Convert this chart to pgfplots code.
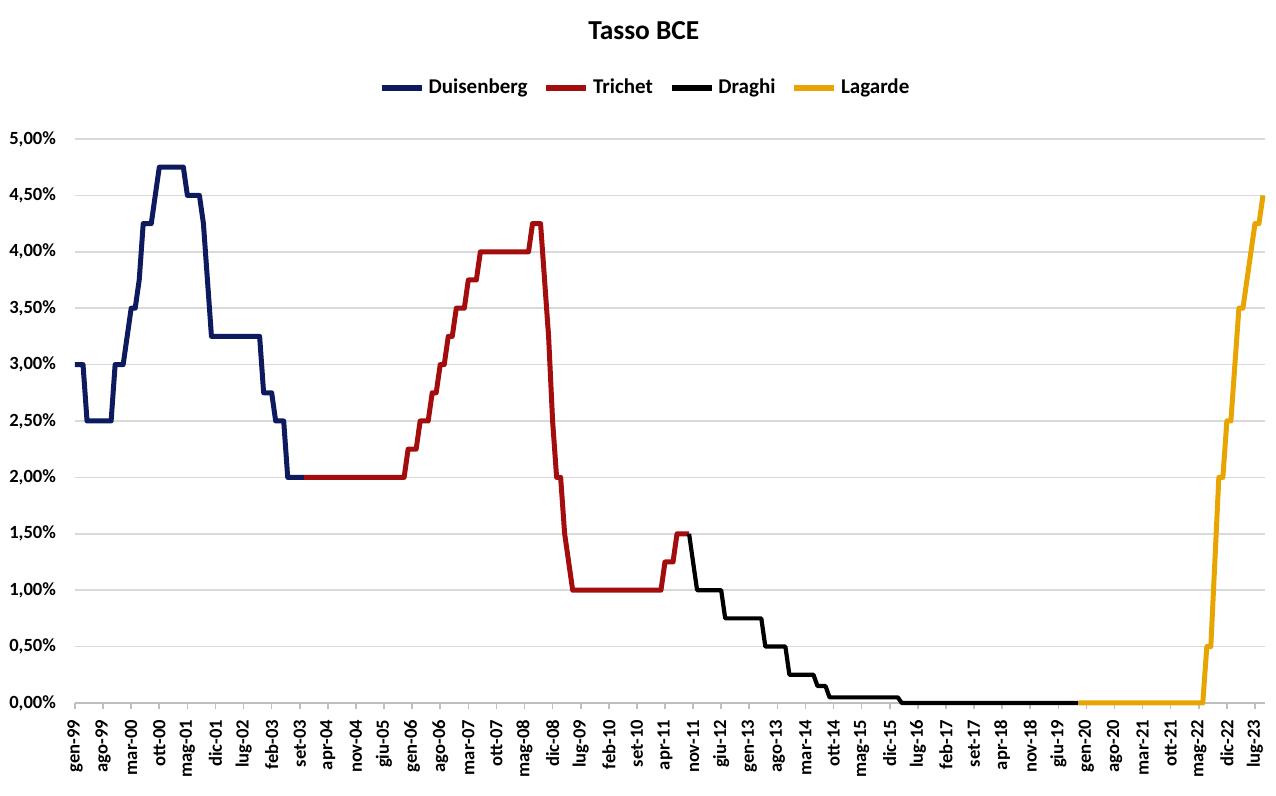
\documentclass[border=0pt]{standalone}
\usepackage{fontspec}
\setmainfont{Carlito}
\usepackage{pgfplots}
\pgfplotsset{compat=1.18}
\definecolor{cDuis}{HTML}{0D1A5E}
\definecolor{cTri}{HTML}{A30D0D}
\definecolor{cDra}{HTML}{000000}
\definecolor{cLag}{HTML}{E8A400}
\definecolor{cGrid}{HTML}{D9D9D9}
\definecolor{cAxis}{HTML}{BFBFBF}
\begin{document}
\begin{tikzpicture}
\path[use as bounding box] (-37.5pt,-46.5pt) rectangle (600.5pt,351.5pt);
\begin{axis}[
  scale only axis, width=595pt, height=282pt,
  xmin=0, xmax=296.5, ymin=0, ymax=5,
  clip=false,
  axis x line*=bottom, axis y line*=left,
  y axis line style={draw=none},
  x axis line style={cAxis, line width=0.8pt},
  ymajorgrids, grid style={cGrid, line width=0.8pt},
  ytick={0,0.5,1,1.5,2,2.5,3,3.5,4,4.5,5},
  yticklabels={{0,00\%},{0,50\%},{1,00\%},{1,50\%},{2,00\%},{2,50\%},{3,00\%},{3,50\%},{4,00\%},{4,50\%},{5,00\%}},
  ytick style={draw=none},
  xtick={0,7,...,294},
  xticklabels={gen-99,ago-99,mar-00,ott-00,mag-01,dic-01,lug-02,feb-03,set-03,apr-04,nov-04,giu-05,gen-06,ago-06,mar-07,ott-07,mag-08,dic-08,lug-09,feb-10,set-10,apr-11,nov-11,giu-12,gen-13,ago-13,mar-14,ott-14,mag-15,dic-15,lug-16,feb-17,set-17,apr-18,nov-18,giu-19,gen-20,ago-20,mar-21,ott-21,mag-22,dic-22,lug-23},
  xtick align=outside,
  xtick style={cAxis, line width=0.8pt},
  major tick length=3pt,
  tick label style={font=\fontsize{9.3}{11}\selectfont\bfseries},
  xticklabel style={yshift=-2pt, rotate=90, anchor=east},
  yticklabel style={anchor=east, xshift=-6pt},
  legend columns=4,
  legend style={at={(0.48,1.0904)}, anchor=center, draw=none, fill=none,
    font=\fontsize{10.5}{12}\selectfont\bfseries,
    /tikz/every even column/.append style={column sep=6pt}},
  legend image code/.code={\draw[#1, line width=2.8pt] (0pt,0pt) -- (20pt,0pt);},
]
\addplot[cDuis, line width=2.5pt, line join=round, mark=none] coordinates {
(0,3.00) (2,3.00) (3,2.50) (9,2.50) (10,3.00) (12,3.00) (13,3.25) (14,3.50) (15,3.50) (16,3.75) (17,4.25) (19,4.25) (20,4.50) (21,4.75) (27,4.75) (28,4.50) (31,4.50) (32,4.25) (33,3.75) (34,3.25) (46,3.25) (47,2.75) (49,2.75) (50,2.50) (52,2.50) (53,2.00) (57,2.00)
};
\addlegendentry{Duisenberg}
\addplot[cTri, line width=2.5pt, line join=round, mark=none] coordinates {
(57,2.00) (82,2.00) (83,2.25) (85,2.25) (86,2.50) (88,2.50) (89,2.75) (90,2.75) (91,3.00) (92,3.00) (93,3.25) (94,3.25) (95,3.50) (97,3.50) (98,3.75) (100,3.75) (101,4.00) (113,4.00) (114,4.25) (116,4.25) (117,3.75) (118,3.25) (119,2.50) (120,2.00) (121,2.00) (122,1.50) (123,1.25) (124,1.00) (146,1.00) (147,1.25) (149,1.25) (150,1.50) (153,1.50)
};
\addlegendentry{Trichet}
\addplot[cDra, line width=2.1pt, line join=round, mark=none] coordinates {
(153,1.50) (154,1.25) (155,1.00) (161,1.00) (162,0.75) (171,0.75) (172,0.50) (177,0.50) (178,0.25) (184,0.25) (185,0.15) (187,0.15) (188,0.05) (205,0.05) (206,0.00) (250,0.00)
};
\addlegendentry{Draghi}
\addplot[cLag, line width=2.5pt, line join=round, mark=none] coordinates {
(250,0.00) (281,0.00) (282,0.50) (283,0.50) (284,1.25) (285,2.00) (286,2.00) (287,2.50) (288,2.50) (289,3.00) (290,3.50) (291,3.50) (292,3.75) (293,4.00) (294,4.25) (295,4.25) (296,4.50)
};
\addlegendentry{Lagarde}
\node[font=\fontsize{13.7}{16}\selectfont\bfseries] at (rel axis cs:0.478,1.193) {Tasso BCE};
\end{axis}
\end{tikzpicture}
\end{document}
